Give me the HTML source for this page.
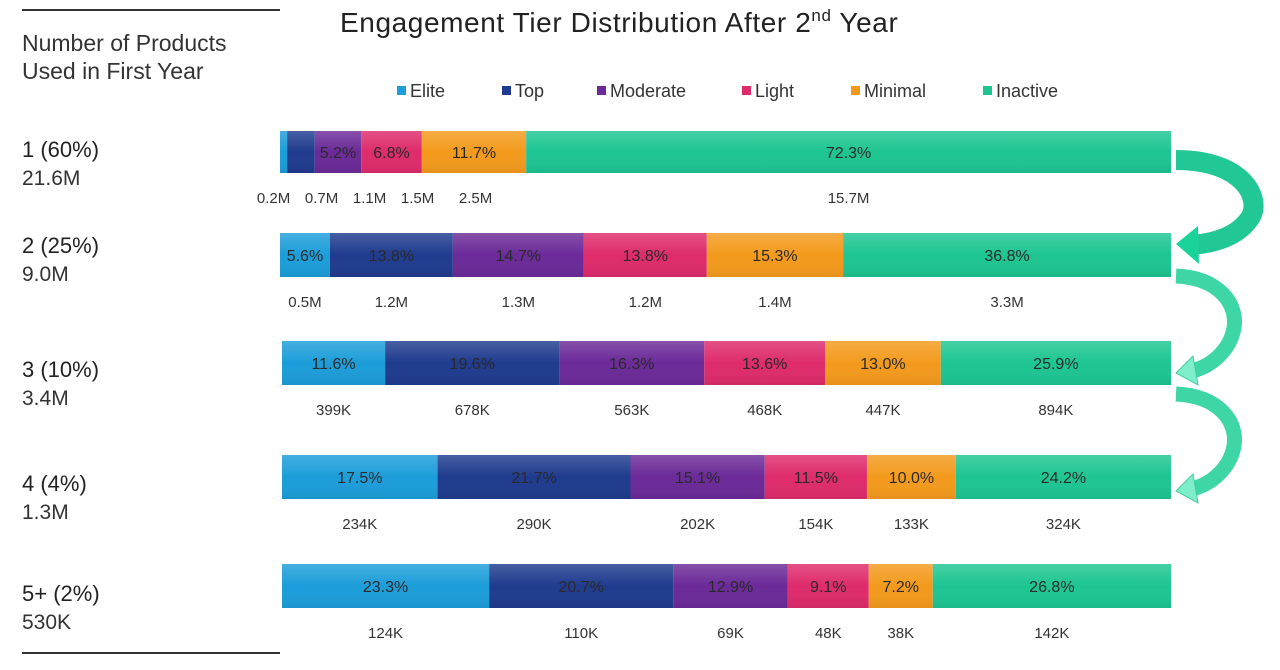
<!DOCTYPE html>
<html><head><meta charset="utf-8">
<style>
html,body{margin:0;padding:0;background:#fff;}
body{width:1280px;height:665px;overflow:hidden;font-family:"Liberation Sans",sans-serif;}
svg text{font-family:"Liberation Sans",sans-serif;}
</style></head>
<body>
<svg id="chart" width="1280" height="665" viewBox="0 0 1280 665" xmlns="http://www.w3.org/2000/svg">
  <defs>
    <linearGradient id="sheen" x1="0" y1="0" x2="0" y2="1">
      <stop offset="0" stop-color="#fff" stop-opacity="0.18"/>
      <stop offset="0.5" stop-color="#fff" stop-opacity="0"/>
      <stop offset="1" stop-color="#000" stop-opacity="0.06"/>
    </linearGradient>
  </defs>
  <line x1="22" y1="10" x2="280" y2="10" stroke="#333" stroke-width="2"/>
  <line x1="22" y1="653" x2="280" y2="653" stroke="#333" stroke-width="2"/>
  <text x="22" y="51" font-size="23" fill="#333">Number of Products</text>
  <text x="22" y="79" font-size="23" fill="#333">Used in First Year</text>
  <text x="340" y="32" font-size="28" letter-spacing="0.6" fill="#222">Engagement Tier Distribution After 2<tspan font-size="17" dy="-11">nd</tspan><tspan dy="11"> Year</tspan></text>
  <g id="legend"></g>
  <g id="rows"></g>
  <g id="arrows">
    <path d="M1176,160 C1245,160 1262,200 1250,218 C1238,236 1215,243 1192,245" fill="none" stroke="#22c796" stroke-width="20"/>
    <polygon points="1176,244 1198,226 1199,264" fill="#1ad39a"/>
    <path d="M1176,276 C1220,278 1238,305 1234,328 C1230,350 1212,366 1192,371" fill="none" stroke="#3fd6a6" stroke-width="15"/>
    <polygon points="1176,373 1193,356 1198,385" fill="#7eedc9" stroke="#3fcf9f" stroke-width="1"/>
    <path d="M1176,394 C1220,396 1238,423 1234,446 C1230,468 1212,484 1192,489" fill="none" stroke="#3fd6a6" stroke-width="15"/>
    <polygon points="1176,491 1193,474 1198,503" fill="#7eedc9" stroke="#3fcf9f" stroke-width="1"/>
  </g>
</svg>
<script>
const tiers = ["Elite","Top","Moderate","Light","Minimal","Inactive"];
const rowLabels = ["1 (60%)","2 (25%)","3 (10%)","4 (4%)","5+ (2%)"];
const rowTotals = ["21.6M","9.0M","3.4M","1.3M","530K"];
const pctRow1 = [0.8,3.1,5.2,6.8,11.7,72.3];
const pctRow2 = [5.6,13.8,14.7,13.8,15.3,36.8];
const pctRow3 = [11.6,19.6,16.3,13.6,13.0,25.9];
const pctRow4 = [17.5,21.7,15.1,11.5,10.0,24.2];
const pctRow5 = [23.3,20.7,12.9,9.1,7.2,26.8];
const pctLabelsRow1 = ["","","5.2%","6.8%","11.7%","72.3%"];
const countRow1 = ["0.2M","0.7M","1.1M","1.5M","2.5M","15.7M"];
const countRow2 = ["0.5M","1.2M","1.3M","1.2M","1.4M","3.3M"];
const countRow3 = ["399K","678K","563K","468K","447K","894K"];
const countRow4 = ["234K","290K","202K","154K","133K","324K"];
const countRow5 = ["124K","110K","69K","48K","38K","142K"];

const colors = ["#1c9dd9","#1f3b8e","#6b2a98","#de2b6b","#f39a1c","#1dc592"];
const NS = "http://www.w3.org/2000/svg";
function mk(tag, attrs, parent){const e=document.createElementNS(NS,tag);for(const k in attrs)e.setAttribute(k,attrs[k]);parent.appendChild(e);return e;}

const legendX = [397,502,597,742,851,983];
const lg = document.getElementById('legend');
tiers.forEach((t,i)=>{
  const r = mk('rect',{x:legendX[i],y:86,width:9,height:9,fill:colors[i]},lg);
  
  
  const tx = mk('text',{x:legendX[i]+13,y:97,'font-size':18,fill:'#333'},lg);
  tx.textContent = t;
  
  
});

const rowsData = [pctRow1,pctRow2,pctRow3,pctRow4,pctRow5];
const counts = [countRow1,countRow2,countRow3,countRow4,countRow5];
const barX = [280,280,282,282,282];
const barY = [131,233,341,455,564];
const barH = [42,44,44,44,44];
const barRight = 1171;
const labelY = [167,263,387,501,611];
const rowsG = document.getElementById('rows');

rowsData.forEach((vals,ri)=>{
  const g = mk('g',{},rowsG);
  
  
  const l1 = mk('text',{x:22,y:labelY[ri]-10,'font-size':22,fill:'#222'},g);
  l1.textContent = rowLabels[ri];
  
  
  const l2 = mk('text',{x:22,y:labelY[ri]+18,'font-size':21,fill:'#333'},g);
  l2.textContent = rowTotals[ri];
  
  
  const total = vals.reduce((a,b)=>a+b,0);
  const scale = (barRight-barX[ri])/total;
  let x = barX[ri];
  const centers = [];
  vals.forEach((v,si)=>{
    const w = v*scale;
    const r = mk('rect',{x:x,y:barY[ri],width:w,height:barH[ri],fill:colors[si]},g);
    
    
    mk('rect',{x:x,y:barY[ri],width:w,height:barH[ri],fill:'url(#sheen)'},g);
    const cx = x + w/2;
    centers.push(cx);
    const lbl = ri===0 ? pctLabelsRow1[si] : v.toFixed(1)+'%';
    if(lbl){
      const t = mk('text',{x:cx,y:barY[ri]+barH[ri]/2+6,'font-size':16,fill:'#2a2a2a','text-anchor':'middle'},g);
      t.textContent = lbl;
      
      
    }
    x += w;
  });
  const pos = centers.slice();
  for(let i=1;i<pos.length;i++) if(pos[i]-pos[i-1]<48) pos[i]=pos[i-1]+48;
  if(ri===0){ for(let i=0;i<4;i++) pos[i]-=10; }
  counts[ri].forEach((c,si)=>{
    const t = mk('text',{x:pos[si],y:barY[ri]+barH[ri]+30,'font-size':15,fill:'#333','text-anchor':'middle'},g);
    t.textContent = c;
    
    
  });
});
</script>
</body></html>
